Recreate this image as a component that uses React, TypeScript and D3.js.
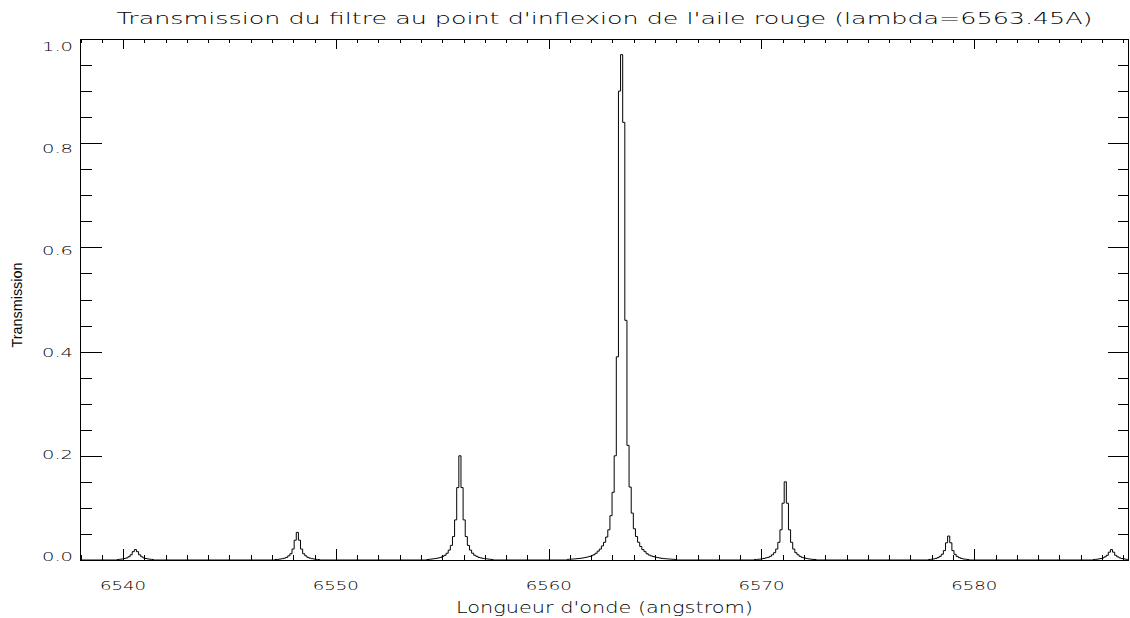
import React from 'react';
import * as d3 from 'd3';

const titleText = "Transmission du filtre au point d'inflexion de l'aile rouge (lambda=6563.45A)";
const xTitleText = "Longueur d'onde (angstrom)";
const yTitleText = "Transmission";

const xDomain: [number, number] = [6538, 6587.25];
const yDomain: [number, number] = [0, 1.0];
const xMajorTicks = [6540, 6550, 6560, 6570, 6580];
const xTickLabels = ["6540", "6550", "6560", "6570", "6580"];
const yMajorTicks = [0, 0.2, 0.4, 0.6, 0.8, 1.0];
const yTickLabels = ["0.0", "0.2", "0.4", "0.6", "0.8", "1.0"];
const xMinorStep = 1;
const yMinorStep = 0.05;

// sampling of the transmission curve (Angstrom)
const binWidth = 0.1;

// centre wavelengths of each transmission order
const peakCenters = [6540.58, 6548.19, 6555.83, 6563.43, 6571.12, 6578.80, 6586.45];

// transmission values per bin, centred on each peak
const peak1Values = [0.001, 0.0015, 0.002, 0.0028, 0.004, 0.0062, 0.010, 0.016, 0.020, 0.016, 0.010, 0.0062, 0.004, 0.0028, 0.002, 0.0015, 0.001];
const peak2Values = [0.001, 0.0012, 0.0018, 0.0025, 0.0035, 0.005, 0.008, 0.012, 0.021, 0.038, 0.053, 0.038, 0.021, 0.012, 0.008, 0.005, 0.0035, 0.0025, 0.0018, 0.0012, 0.001];
const peak3Values = [0.001, 0.0015, 0.002, 0.0025, 0.003, 0.004, 0.005, 0.007, 0.009, 0.013, 0.019, 0.028, 0.045, 0.077, 0.139, 0.200, 0.139, 0.077, 0.045, 0.028, 0.019, 0.013, 0.009, 0.007, 0.005, 0.004, 0.003, 0.0025, 0.002, 0.0015, 0.001];
const peak4Values = [
  0.0013, 0.0015, 0.0018, 0.0021, 0.0025, 0.0029, 0.0034, 0.004, 0.0048, 0.0057, 0.0068, 0.0082, 0.010,
  0.013, 0.017, 0.021, 0.027, 0.034, 0.044, 0.058, 0.085, 0.13, 0.20, 0.39, 0.90,
  0.97,
  0.84, 0.46, 0.22, 0.14, 0.09, 0.06, 0.045, 0.034, 0.026, 0.020, 0.016, 0.012,
  0.0095, 0.0078, 0.0065, 0.0055, 0.0046, 0.0038, 0.0032, 0.0027, 0.0023, 0.002, 0.0017, 0.0014, 0.0012
];
const peak5Values = [0.001, 0.0012, 0.0016, 0.0022, 0.003, 0.004, 0.005, 0.007, 0.010, 0.014, 0.021, 0.034, 0.058, 0.109, 0.150, 0.109, 0.058, 0.034, 0.021, 0.014, 0.010, 0.007, 0.005, 0.004, 0.003, 0.0022, 0.0016, 0.0012, 0.001];
const peak6Values = [0.001, 0.0015, 0.002, 0.003, 0.0045, 0.007, 0.011, 0.018, 0.033, 0.046, 0.033, 0.018, 0.011, 0.007, 0.0045, 0.003, 0.002, 0.0015, 0.001];
const peak7Values = [0.001, 0.0014, 0.002, 0.0027, 0.004, 0.006, 0.009, 0.015, 0.020, 0.015, 0.009, 0.006, 0.004, 0.0027, 0.002, 0.0014, 0.001];

const peakValueLists = [peak1Values, peak2Values, peak3Values, peak4Values, peak5Values, peak6Values, peak7Values];

const W = 1130;
const H = 618;
const left = 80.5;
const right = 1128.5;
const top = 39;
const bottom = 560;

const FONT = "'DejaVu Sans', sans-serif";
const YFONT = "'Liberation Sans Narrow', 'Liberation Sans', sans-serif";

function buildSteps(): [number, number][] {
  const pts: [number, number][] = [[xDomain[0], 0]];
  peakCenters.forEach((c, i) => {
    const vals = peakValueLists[i];
    const half = (vals.length - 1) / 2;
    vals.forEach((v, k) => {
      const lam = c + (k - half) * binWidth - binWidth / 2;
      pts.push([lam, v]);
    });
    const endLam = c + (vals.length - 1 - half) * binWidth + binWidth / 2;
    pts.push([endLam, 0]);
  });
  pts.push([xDomain[1], 0]);
  return pts;
}

export default function App() {
  const x = d3.scaleLinear().domain(xDomain).range([left, right]);
  const y = d3.scaleLinear().domain(yDomain).range([bottom, top]);
  const yLabel = d3.scaleLinear().domain(yDomain).range([556, 46]);

  const steps = buildSteps();
  const line = d3.line<[number, number]>()
    .x(d => x(d[0]))
    .y(d => y(d[1]))
    .curve(d3.curveStepAfter);

  const xMinor = d3.range(Math.ceil(xDomain[0]), xDomain[1] + 1e-9, xMinorStep).filter(v => !xMajorTicks.includes(v));
  const yMinor = d3.range(0, 1.0001, yMinorStep).filter(v => !yMajorTicks.some(m => Math.abs(m - v) < 1e-6));

  const xMajLen = 11, xMinLen = 5, yMajLen = 21, yMinLen = 11;

  return (
    <svg width={W} height={H} style={{ position: 'absolute', left: 0, top: 0, background: '#fff' }}>
      <rect x={0} y={0} width={W} height={H} fill="#fff" />
      <defs>
        <clipPath id="plotClip">
          <rect x={left} y={top - 1} width={right - left} height={bottom - top + 1} />
        </clipPath>
      </defs>
      <text x={(left + right) / 2} y={24} textAnchor="middle" fontFamily={FONT} fontWeight={200} fontSize={16}
        textLength={976} lengthAdjust="spacingAndGlyphs" fill="#000">{titleText}</text>
      <g stroke="#000" strokeWidth={1} fill="none" shapeRendering="crispEdges">
        <rect x={left} y={top} width={right - left} height={bottom - top} />
        {xMajorTicks.map(v => (
          <g key={'xm' + v}>
            <line x1={Math.round(x(v)) + 0.5} x2={Math.round(x(v)) + 0.5} y1={bottom} y2={bottom - xMajLen} />
            <line x1={Math.round(x(v)) + 0.5} x2={Math.round(x(v)) + 0.5} y1={top} y2={top + xMajLen - 1} />
          </g>
        ))}
        {xMinor.map(v => (
          <g key={'xn' + v}>
            <line x1={Math.round(x(v)) + 0.5} x2={Math.round(x(v)) + 0.5} y1={bottom} y2={bottom - xMinLen} />
            <line x1={Math.round(x(v)) + 0.5} x2={Math.round(x(v)) + 0.5} y1={top} y2={top + xMinLen - 1} />
          </g>
        ))}
        {yMajorTicks.map(v => (
          <g key={'ym' + v}>
            <line x1={left} x2={left + yMajLen} y1={Math.round(y(v)) + 0.5} y2={Math.round(y(v)) + 0.5} />
            <line x1={right} x2={right - yMajLen} y1={Math.round(y(v)) + 0.5} y2={Math.round(y(v)) + 0.5} />
          </g>
        ))}
        {yMinor.map(v => (
          <g key={'yn' + v}>
            <line x1={left} x2={left + yMinLen} y1={Math.round(y(v)) + 0.5} y2={Math.round(y(v)) + 0.5} />
            <line x1={right} x2={right - yMinLen} y1={Math.round(y(v)) + 0.5} y2={Math.round(y(v)) + 0.5} />
          </g>
        ))}
      </g>
      <path d={line(steps) || ''} fill="none" stroke="#000" strokeWidth={1} clipPath="url(#plotClip)" />
      {xMajorTicks.map((v, i) => (
        <text key={'xl' + v} x={x(v)} y={590} textAnchor="middle" fontFamily={FONT} fontWeight={200} fontSize={13}
          textLength={46} lengthAdjust="spacingAndGlyphs" fill="#000">{xTickLabels[i]}</text>
      ))}
      {yMajorTicks.map((v, i) => (
        <text key={'yl' + v} x={73} y={yLabel(v) + 5} textAnchor="end" fontFamily={FONT} fontWeight={200} fontSize={13}
          textLength={31} lengthAdjust="spacingAndGlyphs" fill="#000">{yTickLabels[i]}</text>
      ))}
      <text x={(left + right) / 2} y={613} textAnchor="middle" fontFamily={FONT} fontWeight={200} fontSize={15}
        textLength={297} lengthAdjust="spacingAndGlyphs" fill="#000">{xTitleText}</text>
      <text transform={`translate(22,${305}) rotate(-90)`} textAnchor="middle" fontFamily={YFONT} fontSize={14}
        textLength={85} lengthAdjust="spacingAndGlyphs" fill="#000">{yTitleText}</text>
    </svg>
  );
}
